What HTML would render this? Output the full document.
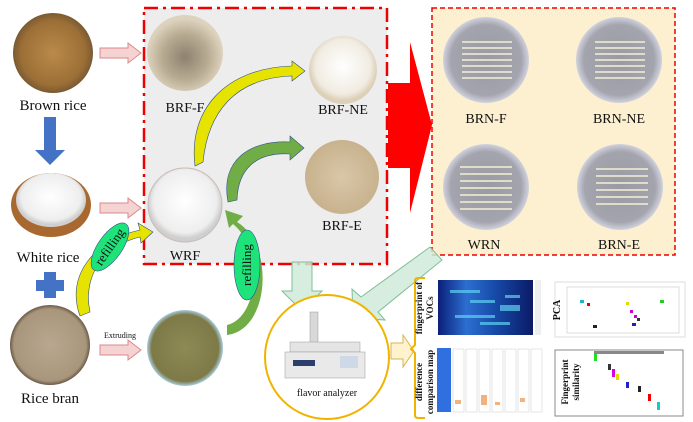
<!DOCTYPE html>
<html><head><meta charset="utf-8"><style>
html,body{margin:0;padding:0;background:#fff;width:693px;height:422px;overflow:hidden}
svg{display:block}
text{font-family:"Liberation Serif",serif;fill:#111}
</style></head><body>
<svg width="693" height="422" viewBox="0 0 693 422" xmlns="http://www.w3.org/2000/svg">
<defs>
<radialGradient id="brown" cx="50%" cy="50%" r="50%"><stop offset="0" stop-color="#b98a4a"/><stop offset="0.8" stop-color="#9c6f36"/><stop offset="1" stop-color="#7a5a33"/></radialGradient>
<radialGradient id="flourF" cx="50%" cy="55%" r="50%"><stop offset="0" stop-color="#8d8270"/><stop offset="0.6" stop-color="#b8ab92"/><stop offset="1" stop-color="#ddd2bd"/></radialGradient>
<radialGradient id="white" cx="50%" cy="45%" r="50%"><stop offset="0" stop-color="#ffffff"/><stop offset="0.85" stop-color="#eeeeee"/><stop offset="1" stop-color="#cfcfcf"/></radialGradient>
<radialGradient id="ne" cx="50%" cy="45%" r="50%"><stop offset="0" stop-color="#ffffff"/><stop offset="0.8" stop-color="#f1ece2"/><stop offset="1" stop-color="#ddd0b8"/></radialGradient>
<radialGradient id="e" cx="50%" cy="50%" r="50%"><stop offset="0" stop-color="#d9c7a8"/><stop offset="1" stop-color="#c8b28e"/></radialGradient>
<radialGradient id="bran" cx="50%" cy="50%" r="50%"><stop offset="0" stop-color="#b8a88f"/><stop offset="0.9" stop-color="#a8967c"/><stop offset="1" stop-color="#6b5a48"/></radialGradient>
<radialGradient id="pel" cx="50%" cy="50%" r="50%"><stop offset="0" stop-color="#8e8a55"/><stop offset="0.88" stop-color="#7d7a48"/><stop offset="1" stop-color="#a9cde0"/></radialGradient>
<radialGradient id="dish" cx="50%" cy="50%" r="50%"><stop offset="0" stop-color="#9a9aa2"/><stop offset="0.82" stop-color="#a4a4ae"/><stop offset="1" stop-color="#d0d2de"/></radialGradient>
<linearGradient id="heat" x1="0" x2="1"><stop offset="0" stop-color="#0b1f7a"/><stop offset="0.3" stop-color="#2c6fd0"/><stop offset="0.6" stop-color="#174aa8"/><stop offset="1" stop-color="#0a1a66"/></linearGradient>
</defs>

<rect x="144" y="8" width="243" height="256" fill="#ededed" stroke="#e00" stroke-width="2.5" stroke-dasharray="14,5,3,5"/>
<rect x="432" y="8" width="243" height="247" fill="#fdf0d0" stroke="#e00" stroke-width="1.5" stroke-dasharray="5,3"/>

<polygon points="388,83 410,83 410,42 432,125 410,213 410,168 388,168" fill="#ff0000"/>

<circle cx="53" cy="53" r="40" fill="url(#brown)"/>
<text x="53" y="110" font-size="15" text-anchor="middle">Brown rice</text>
<polygon points="44,117 56,117 56,150 65,150 50,165 35,150 44,150" fill="#4472c4"/>
<ellipse cx="51" cy="205" rx="40" ry="32" fill="#a9682f"/>
<ellipse cx="51" cy="200" rx="35" ry="27" fill="url(#white)"/>
<text x="48" y="262" font-size="15" text-anchor="middle">White rice</text>
<polygon points="44,272 56,272 56,280 64,280 64,291 56,291 56,298 44,298 44,291 36,291 36,280 44,280" fill="#4472c4"/>
<circle cx="50" cy="345" r="40" fill="url(#bran)"/>
<text x="50" y="403" font-size="15" text-anchor="middle">Rice bran</text>

<g fill="#f6d3d3" stroke="#d98a8a" stroke-width="1">
<polygon points="100,48 128,48 128,43 141,53 128,63 128,58 100,58"/>
<polygon points="100,203 128,203 128,198 141,208 128,218 128,213 100,213"/>
<polygon points="100,345 128,345 128,340 141,350 128,360 128,355 100,355"/>
</g>
<text x="120" y="338" font-size="8" text-anchor="middle">Extruding</text>

<circle cx="185" cy="53" r="38" fill="url(#flourF)"/>
<text x="185" y="112" font-size="14" text-anchor="middle">BRF-F</text>
<circle cx="343" cy="70" r="34" fill="url(#ne)"/>
<text x="343" y="114" font-size="14" text-anchor="middle">BRF-NE</text>
<circle cx="342" cy="177" r="37" fill="url(#e)"/>
<text x="342" y="230" font-size="14" text-anchor="middle">BRF-E</text>
<circle cx="185" cy="205" r="37" fill="url(#white)" stroke="#c9bcb5" stroke-width="1"/>
<text x="185" y="260" font-size="14" text-anchor="middle">WRF</text>
<circle cx="185" cy="348" r="38" fill="url(#pel)"/>

<path d="M195,166 C188,110 225,68 292,66 L292,61 L305,71 L292,81 L292,76 C235,78 208,112 203,162 Z" fill="#e6e300" stroke="#2f4e8a" stroke-width="0.6"/>
<path d="M228,202 C220,160 250,140 290,142 L290,136 L304,148 L290,160 L290,154 C255,152 238,170 237,200 Z" fill="#70ad47" stroke="#2f4e8a" stroke-width="0.6"/>
<path d="M80,316 C65,275 95,240 140,230 L138,223 L153,232 L141,243 L140,237 C105,245 82,275 90,312 Z" fill="#e6e300" stroke="#2f4e8a" stroke-width="0.6"/>
<path d="M227,335 C270,330 275,245 237,222 L243,216 L225,210 L229,228 L233,224 C265,250 258,318 227,325 Z" fill="#70ad47"/>
<ellipse cx="110" cy="247" rx="12" ry="28" transform="rotate(35 110 247)" fill="#1ee37a" stroke="#2f4e8a" stroke-width="0.6"/>
<text x="110" y="251" font-size="13" text-anchor="middle" transform="rotate(-55 110 247)">refilling</text>
<ellipse cx="247" cy="265" rx="13" ry="35" fill="#1ee37a" stroke="#2f4e8a" stroke-width="0.6"/>
<text x="247" y="269" font-size="13" text-anchor="middle" transform="rotate(-90 247 265)">refilling</text>

<g>
<circle cx="486" cy="60" r="43" fill="url(#dish)"/>
<circle cx="619" cy="60" r="43" fill="url(#dish)"/>
<circle cx="486" cy="187" r="43" fill="url(#dish)"/>
<circle cx="620" cy="187" r="43" fill="url(#dish)"/>
<g stroke="#e0dccb" stroke-width="2">
<path d="M462,42h50M462,48h50M462,54h50M462,60h50M462,66h50M462,72h50M462,78h50"/>
<path d="M595,42h50M595,48h50M595,54h50M595,60h50M595,66h50M595,72h50M595,78h50"/>
<path d="M460,167h52M460,174h52M460,181h52M460,188h52M460,195h52M460,202h52M460,209h52"/>
<path d="M596,169h52M596,176h52M596,183h52M596,190h52M596,197h52M596,204h52"/>
</g>
</g>
<text x="486" y="123" font-size="14" text-anchor="middle">BRN-F</text>
<text x="619" y="123" font-size="14" text-anchor="middle">BRN-NE</text>
<text x="484" y="249" font-size="14" text-anchor="middle">WRN</text>
<text x="619" y="249" font-size="14" text-anchor="middle">BRN-E</text>

<polygon points="292,262 312,262 312,291 322,291 302,311 282,291 292,291" fill="#cfeadb" fill-opacity="0.85" stroke="#7fbf96" stroke-width="1"/>
<polygon points="430,247 442,260 378,312 385,320 353,318 352,289 361,297" fill="#cfeadb" fill-opacity="0.85" stroke="#7fbf96" stroke-width="1"/>

<circle cx="327" cy="357" r="62" fill="#fff" stroke="#f0b400" stroke-width="2"/>
<rect x="310" y="312" width="8" height="40" fill="#d8d8d8" stroke="#999" stroke-width="0.5"/>
<rect x="290" y="342" width="70" height="10" fill="#e4e4e4" stroke="#999" stroke-width="0.5"/>
<rect x="285" y="352" width="80" height="26" fill="#e9e9ea" stroke="#999" stroke-width="0.5"/>
<rect x="340" y="356" width="18" height="12" fill="#cfd8e6"/>
<rect x="293" y="360" width="22" height="6" fill="#2b3e6e"/>
<text x="327" y="396" font-size="10" text-anchor="middle">flavor analyzer</text>

<polygon points="391,343 403,343 403,335 414,351 403,367 403,359 391,359" fill="#fff2cc" stroke="#d6b656" stroke-width="1"/>
<path d="M425,278 H418 Q415,278 415,281 V345 L411,349 L415,353 V415 Q415,418 418,418 H425" fill="none" stroke="#f0b400" stroke-width="2"/>

<text font-size="9" font-weight="bold" transform="translate(422,308) rotate(-90)" text-anchor="middle">fingerprint of</text>
<text font-size="9" font-weight="bold" transform="translate(433,308) rotate(-90)" text-anchor="middle">VOCs</text>
<text font-size="9" font-weight="bold" transform="translate(422,382) rotate(-90)" text-anchor="middle">difference</text>
<text font-size="9" font-weight="bold" transform="translate(433,382) rotate(-90)" text-anchor="middle">comparison map</text>

<rect x="438" y="280" width="95" height="55" fill="url(#heat)"/>
<g fill="#5fd0f0" opacity="0.7">
<rect x="450" y="290" width="30" height="3"/><rect x="470" y="300" width="25" height="3"/><rect x="500" y="305" width="20" height="6"/><rect x="455" y="315" width="40" height="3"/><rect x="505" y="295" width="15" height="3"/><rect x="480" y="322" width="30" height="3"/>
</g>
<rect x="535" y="280" width="6" height="55" fill="#eee"/>
<rect x="437" y="348" width="14" height="64" fill="#2f6fe0"/>
<g fill="#fff" stroke="#ccc" stroke-width="0.5">
<rect x="453" y="349" width="11" height="63"/><rect x="466" y="349" width="11" height="63"/><rect x="479" y="349" width="11" height="63"/><rect x="492" y="349" width="11" height="63"/><rect x="505" y="349" width="11" height="63"/><rect x="518" y="349" width="11" height="63"/><rect x="531" y="349" width="11" height="63"/>
</g>
<g fill="#f0a060" opacity="0.8"><rect x="455" y="400" width="6" height="4"/><rect x="481" y="395" width="6" height="10"/><rect x="495" y="402" width="5" height="3"/><rect x="520" y="398" width="5" height="4"/></g>

<rect x="555" y="282" width="130" height="55" fill="#fff" stroke="#ddd"/>
<rect x="567" y="287" width="112" height="46" fill="#fff" stroke="#bbb" stroke-width="0.5"/>
<text font-size="10" font-weight="bold" transform="translate(560,310) rotate(-90)" text-anchor="middle">PCA</text>
<rect x="580" y="300" width="4" height="3" fill="#19b6c8"/><rect x="587" y="303" width="3" height="3" fill="#e00"/>
<rect x="626" y="302" width="3" height="3" fill="#dd0"/><rect x="660" y="300" width="4" height="3" fill="#2c2"/>
<rect x="630" y="310" width="3" height="3" fill="#c0c"/><rect x="634" y="315" width="3" height="3" fill="#c0c"/>
<rect x="637" y="318" width="3" height="3" fill="#333"/><rect x="632" y="323" width="4" height="3" fill="#22a"/>
<rect x="593" y="325" width="4" height="3" fill="#222"/>
<rect x="555" y="350" width="128" height="66" fill="#fff" stroke="#888"/>
<rect x="594" y="351" width="70" height="3" fill="#888"/>
<text font-size="9" font-weight="bold" transform="translate(568,382) rotate(-90)" text-anchor="middle">Fingerprint</text>
<text font-size="9" font-weight="bold" transform="translate(579,382) rotate(-90)" text-anchor="middle">similarity</text>
<rect x="594" y="354" width="3" height="7" fill="#2d2"/><rect x="608" y="364" width="3" height="6" fill="#333"/>
<rect x="612" y="369" width="3" height="8" fill="#d0d"/><rect x="616" y="374" width="3" height="6" fill="#dd0"/>
<rect x="626" y="382" width="3" height="6" fill="#22c"/><rect x="638" y="386" width="3" height="6" fill="#222"/>
<rect x="648" y="394" width="3" height="7" fill="#e00"/><rect x="657" y="402" width="3" height="8" fill="#1cc"/>
</svg>
</body></html>
